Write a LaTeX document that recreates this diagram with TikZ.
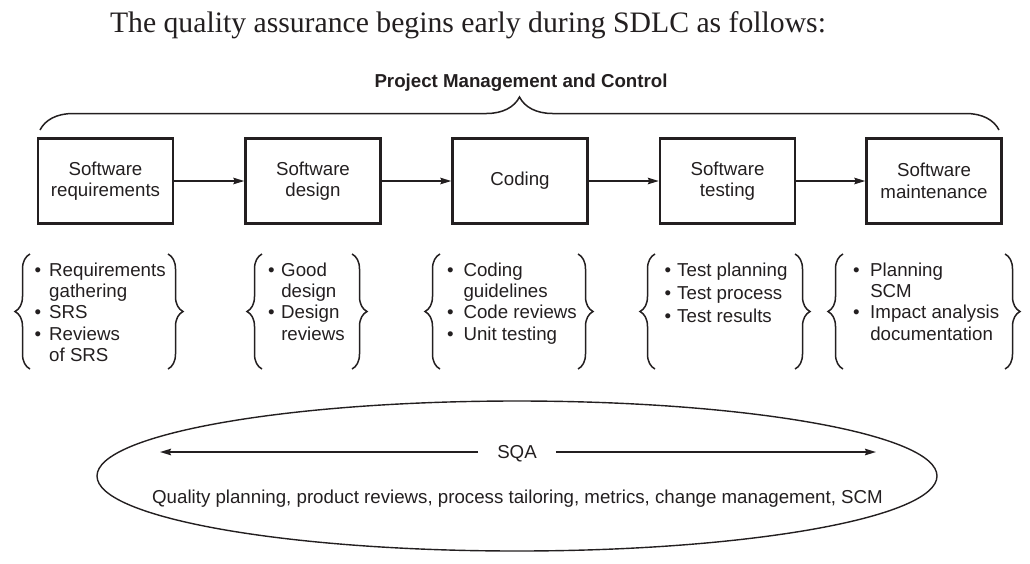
\documentclass[tikz,border=0pt]{standalone}
\usepackage{fontspec}
\setmainfont{Liberation Sans}
\newfontfamily\titlefont{Liberation Serif}
\usetikzlibrary{arrows.meta,decorations.pathreplacing}
\definecolor{ink}{HTML}{231F20}
\begin{document}
\begin{tikzpicture}[x=1pt,y=1pt,
  every node/.style={text=ink},
  txt/.style={font=\fontsize{18.7}{21.4}\selectfont, inner sep=0pt},
  stage/.style={draw=ink, line width=2.4pt, minimum width=135pt, minimum height=85pt,
    align=center, font=\fontsize{18.7}{21.4}\selectfont, inner sep=2pt},
  flow/.style={draw=ink, line width=1.8pt, -{Stealth[length=11pt,width=6.5pt,inset=1.5pt]}},
  brc/.style={draw=ink, line width=1.5pt, decorate, decoration={brace, amplitude=15pt}},
]
\useasboundingbox (0,0) rectangle (1030,-563);

% title
\node[font=\titlefont\fontsize{29.7}{32}\selectfont, inner sep=0pt, anchor=base] (title) at (468,-32)
  {The quality assurance begins early during SDLC as follows:};

% project management brace
\node[txt, font=\bfseries\fontsize{18.7}{21.4}\selectfont, anchor=base] (pmc) at (521,-87)
  {Project Management and Control};
\draw[brc, decoration={amplitude=33pt}] (40,-130) -- (999,-130);

% stages
\node[stage] (b1) at (105.5,-181) {Software\\requirements};
\node[stage] (b2) at (313,-181) {Software\\design};
\node[stage] (b3) at (520,-181) {Coding};
\node[stage] (b4) at (727.5,-181) {Software\\testing};
\node[stage] (b5) at (934,-181) {Software\\maintenance};
\draw[flow] (b1) -- (b2);
\draw[flow] (b2) -- (b3);
\draw[flow] (b3) -- (b4);
\draw[flow] (b4) -- (b5);

% activity lists
\node[txt, anchor=base west] (l1) at (34.5,-276)
  {\begin{tabular}[t]{@{}l@{\hspace{8pt}}l@{}}\textbullet & Requirements\\ & gathering\\ \textbullet & SRS\\ \textbullet & Reviews\\ & of SRS\end{tabular}};
\node[txt, anchor=base west] (l2) at (268,-276)
  {\begin{tabular}[t]{@{}l@{\hspace{6.5pt}}l@{}}\textbullet & Good\\ & design\\ \textbullet & Design\\ & reviews\end{tabular}};
\node[txt, anchor=base west] (l3) at (447,-276)
  {\begin{tabular}[t]{@{}l@{\hspace{9.8pt}}l@{}}\textbullet & Coding\\ & guidelines\\ \textbullet & Code reviews\\ \textbullet & Unit testing\end{tabular}};
\node[txt, font=\fontsize{18.7}{23}\selectfont, anchor=base west] (l4) at (664.5,-276)
  {\begin{tabular}[t]{@{}l@{\hspace{6pt}}l@{}}\textbullet & Test planning\\ \textbullet & Test process\\ \textbullet & Test results\end{tabular}};
\node[txt, anchor=base west] (l5) at (853,-276)
  {\begin{tabular}[t]{@{}l@{\hspace{10.5pt}}l@{}}\textbullet & Planning\\ & SCM\\ \textbullet & Impact analysis\\ & documentation\end{tabular}};

% braces around lists
\draw[brc] (30,-369) -- (30,-254);
\draw[brc] (168,-254) -- (168,-369);
\draw[brc] (262,-369) -- (262,-254);
\draw[brc] (352,-254) -- (352,-369);
\draw[brc] (440,-369) -- (440,-254);
\draw[brc] (578,-254) -- (578,-369);
\draw[brc] (655,-369) -- (655,-254);
\draw[brc] (795,-254) -- (795,-369);
\draw[brc] (843,-369) -- (843,-254);
\draw[brc] (1005,-254) -- (1005,-369);

% SQA ellipse
\draw[ink, line width=1.4pt] (517,-476) ellipse [x radius=420, y radius=75];
\node[txt, text height=13.4pt, text depth=0pt, inner xsep=19pt] (sqa) at (517,-452) {SQA};
\coordinate (sqal) at (160,-452);
\coordinate (sqar) at (876,-452);
\draw[flow] (sqa.west) -- (sqal);
\draw[flow] (sqa.east) -- (sqar);
\node[txt, anchor=base] (qual) at (517.5,-503)
  {Quality planning, product reviews, process tailoring, metrics, change management, SCM};
\end{tikzpicture}
\end{document}
